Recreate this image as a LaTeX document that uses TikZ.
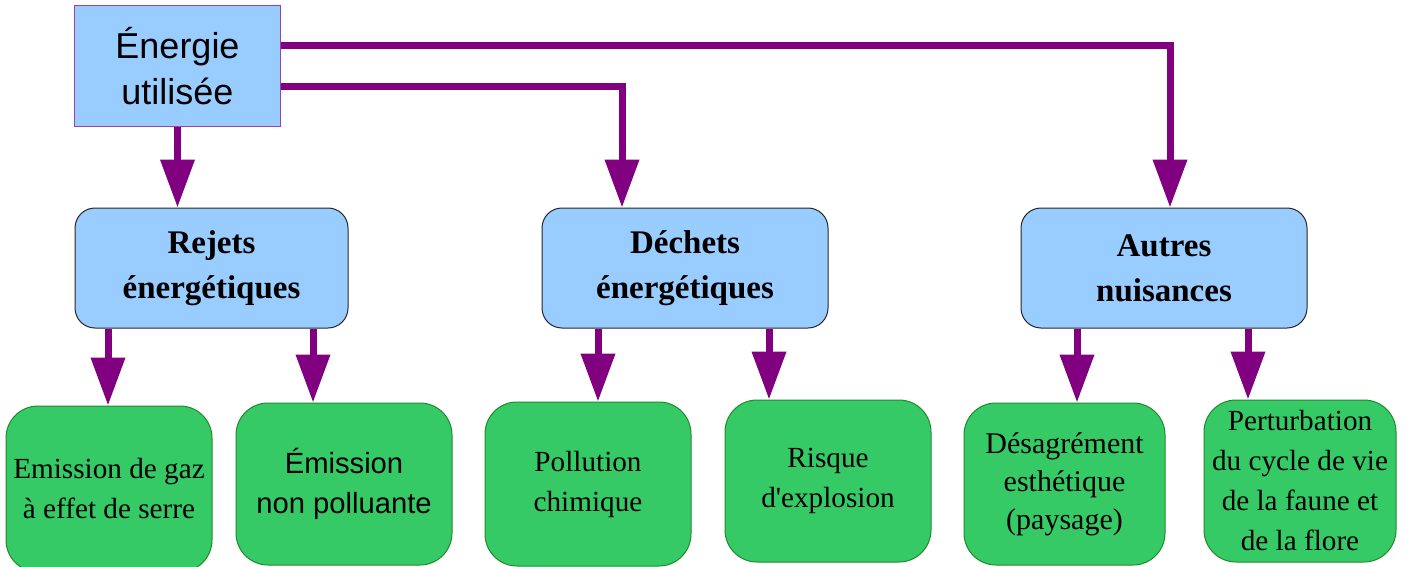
\documentclass[tikz,border=0pt]{standalone}
\usepackage{fontspec}
\setmainfont{Liberation Serif}
\setsansfont{Liberation Sans}
\usepackage{xcolor}
\usetikzlibrary{arrows.meta}
\definecolor{skyfill}{HTML}{99CCFF}
\definecolor{leaffill}{HTML}{36CA66}
\definecolor{leafline}{HTML}{1F8A2A}
\definecolor{plum}{HTML}{800080}
\definecolor{plumline}{HTML}{A040A0}

\begin{document}
\begin{tikzpicture}[
  x=0.5pt, y=-0.5pt,
  topbox/.style={draw=plumline, fill=skyfill, line width=0.5pt, inner sep=0pt, align=center,
    font=\sffamily\fontsize{18}{23}\selectfont},
  midbox/.style={draw=black!85, fill=skyfill, line width=0.5pt, rounded corners=10pt, inner sep=0pt,
    align=center, font=\bfseries\fontsize{16.5}{22.5}\selectfont},
  leaf/.style={draw=leafline, fill=leaffill, line width=0.5pt, rounded corners=16pt, inner sep=0pt,
    align=center, font=\fontsize{14.6}{20}\selectfont},
  arr/.style={-{Triangle[width=16.5pt,length=24pt]}, plum, line width=3.5pt},
]
\useasboundingbox (0,0) rectangle (1408,567);

% Top node
\node[topbox, minimum width=103pt, minimum height=60.5pt] (energie) at (177.5,66.5) {Énergie\\utilisée};

% Middle nodes
\node[midbox, minimum width=136.5pt, minimum height=60pt] (rejets) at (211.5,268) {Rejets\\énergétiques};
\node[midbox, minimum width=143pt, minimum height=60pt] (dechets) at (685,268) {Déchets\\énergétiques};
\node[midbox, minimum width=143pt, minimum height=60pt] (autres) at (1164,268) {Autres\\nuisances};

% Bottom nodes
\node[leaf, minimum width=103pt, minimum height=83pt] (gaz) at (109,489) {Emission de gaz\\à effet de serre};
\node[leaf, minimum width=108pt, minimum height=81pt, font=\sffamily\fontsize{14.6}{20}\selectfont] (nonpol) at (344,484) {Émission\\non polluante};
\node[leaf, minimum width=103pt, minimum height=82pt] (chimie) at (588,484) {Pollution\\chimique};
\node[leaf, minimum width=103pt, minimum height=81pt] (explo) at (828,481) {Risque\\d\textquotesingle explosion};
\node[leaf, minimum width=100.5pt, minimum height=81pt, font=\fontsize{15}{19}\selectfont] (desag) at (1064.5,484) {Désagrément\\esthétique\\(paysage)};
\node[leaf, minimum width=96pt, minimum height=81pt] (pertu) at (1300,481) {Perturbation\\du cycle de vie\\de la faune et\\de la flore};

% Arrow columns
\coordinate (cDech) at (622,0);
\coordinate (cAutr) at (1170,0);
\coordinate (cGaz) at (108,0);
\coordinate (cNon) at (313,0);
\coordinate (cChi) at (598,0);
\coordinate (cExp) at (769,0);
\coordinate (cDes) at (1077,0);
\coordinate (cPer) at (1248,0);

% Top connectors
\draw[arr] (energie.south) -- (energie.south |- rejets.north);
\draw[arr] ([yshift=-10.25pt]energie.east) -| (dechets.north -| cDech);
\draw[arr] ([yshift=10.25pt]energie.east) -| (autres.north -| cAutr);

% Lower connectors
\draw[arr] (rejets.south -| cGaz) -- (gaz.north -| cGaz);
\draw[arr] (rejets.south -| cNon) -- (nonpol.north -| cNon);
\draw[arr] (dechets.south -| cChi) -- (chimie.north -| cChi);
\draw[arr] (dechets.south -| cExp) -- (explo.north -| cExp);
\draw[arr] (autres.south -| cDes) -- (desag.north -| cDes);
\draw[arr] (autres.south -| cPer) -- (pertu.north -| cPer);
\end{tikzpicture}
\end{document}
